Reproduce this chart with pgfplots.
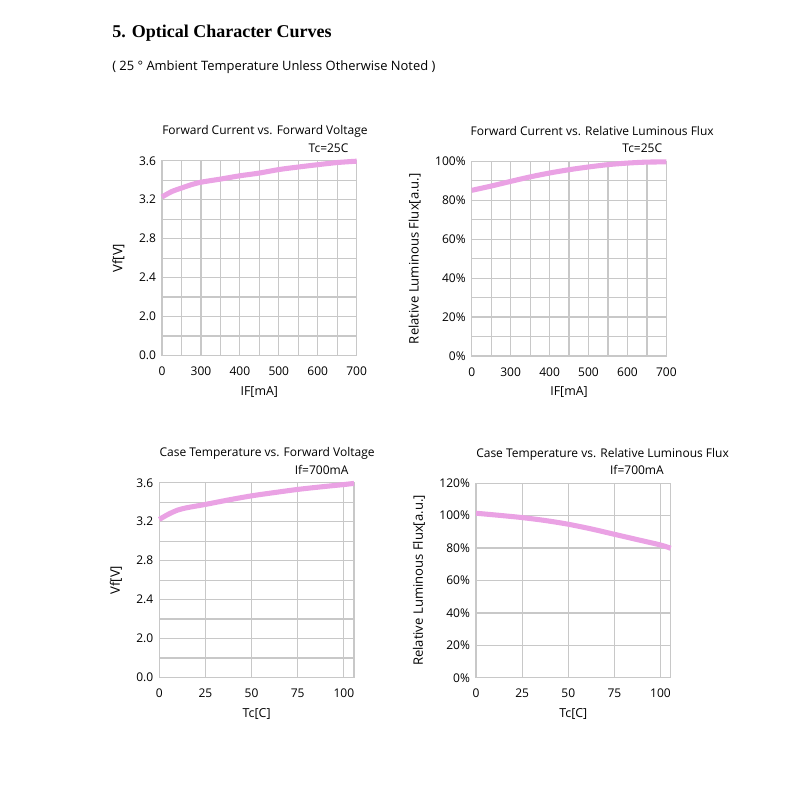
\documentclass[border=0pt]{standalone}
\usepackage{pgfplots}
\pgfplotsset{compat=1.18}
\usepackage{fontspec}
\setmainfont{Open Sans}
\newfontfamily\headfont{Liberation Serif}

\definecolor{curve}{RGB}{234,162,228}
\definecolor{gridc}{RGB}{200,200,200}

\tikzset{ttl/.style={font=\fontsize{9}{10}\selectfont, inner sep=0pt}}

\pgfplotsset{
  ledchart/.style={
    scale only axis,
    width=146pt, height=146pt,
    anchor=south west,
    axis line style={gridc, line width=0.9pt},
    grid style={gridc, line width=0.9pt},
    minor grid style={gridc, line width=0.9pt},
    major tick length=0pt, minor tick length=0pt,
    tick style={draw=none},
    ticklabel style={font=\fontsize{9}{10}\selectfont},
    /pgf/number format/assume math mode=true,
    xticklabel style={yshift=-5pt},
    yticklabel style={xshift=-1pt},
    xlabel style={font=\fontsize{9.3}{10}\selectfont, yshift=-1pt},
    ylabel style={font=\fontsize{9.8}{10}\selectfont, yshift=4pt},
    clip=false,
  },
  ledline/.style={curve, line width=3.8pt, smooth, no markers},
}

\begin{document}
\begin{tikzpicture}
\path[use as bounding box] (0,0) rectangle (600pt,600pt);

\node[anchor=base west, inner sep=0pt, font=\headfont\bfseries\fontsize{13.5}{15}\selectfont]
  at (84pt, 571.5pt) {5. Optical Character Curves};
\node[anchor=base west, inner sep=0pt, font=\fontsize{9.7}{11}\selectfont]
  at (84pt, 547pt) {( 25 \textdegree\ Ambient Temperature Unless Otherwise Noted )};

% top left: IF vs Vf (grid positions, labels as printed)
\begin{axis}[ledchart, at={(121.5pt,333.4pt)},
  xmin=0, xmax=10, ymin=0, ymax=10,
  xtick={0,2,4,6,8,10}, xticklabels={0,300,400,500,600,700},
  minor xtick={1,3,5,7,9},
  ytick={0,2,4,6,8,10}, yticklabels={0.0,2.0,2.4,2.8,3.2,3.6},
  minor ytick={1,3,5,7,9},
  grid=both,
  xlabel={IF[mA]}, ylabel={Vf[V]},
]
\addplot[ledline] coordinates {
  (0,8.14) (0.5,8.42) (1,8.6) (1.5,8.77) (2,8.9) (3,9.06) (4,9.23)
  (5,9.37) (6,9.55) (7,9.68) (8,9.8) (9,9.91) (10,9.98)
};
\node[ttl, anchor=base west] at (rel axis cs:0,1) [yshift=19.5pt] {Forward Current vs. Forward Voltage};
\node[ttl, anchor=base east] at (rel axis cs:1,1) [yshift=6.5pt, xshift=-6pt] {Tc=25C};
\end{axis}

% top right: IF vs relative flux
\begin{axis}[ledchart, at={(353.8pt,333pt)},
  xmin=0, xmax=10, ymin=0, ymax=100,
  xtick={0,2,4,6,8,10}, xticklabels={0,300,400,500,600,700},
  minor xtick={1,3,5,7,9},
  ytick={0,20,40,60,80,100}, yticklabels={0\%,20\%,40\%,60\%,80\%,100\%},
  minor ytick={10,30,50,70,90},
  grid=both,
  xlabel={IF[mA]}, ylabel={Relative Luminous Flux[a.u.]},
]
\addplot[ledline] coordinates {
  (0,85.1) (1,87.3) (2,89.7) (3,92) (4,94) (5,95.7) (6,97.1)
  (7,98.3) (8,99.1) (9,99.6) (10,99.7)
};
\node[ttl, anchor=base west] at (rel axis cs:0,1) [yshift=19.5pt, xshift=-1pt] {Forward Current vs. Relative Luminous Flux};
\node[ttl, anchor=base east] at (rel axis cs:1,1) [yshift=6.5pt, xshift=-3pt] {Tc=25C};
\end{axis}

% bottom left: Tc vs Vf
\begin{axis}[ledchart, at={(119.5pt,91.9pt)},
  xmin=0, xmax=105.5, ymin=0, ymax=10,
  xtick={0,25,50,75,100},
  ytick={0,2,4,6,8,10}, yticklabels={0.0,2.0,2.4,2.8,3.2,3.6},
  minor ytick={1,3,5,7,9},
  xmajorgrids, ymajorgrids, yminorgrids,
  xlabel={Tc[C]}, ylabel={Vf[V]},
]
\addplot[ledline] coordinates {
  (0,8.12) (5,8.39) (10,8.6) (15,8.72) (25,8.89) (37.5,9.12)
  (50,9.33) (62.5,9.5) (75,9.66) (87.5,9.79) (100,9.91) (105.5,9.97)
};
\node[ttl, anchor=base west] at (rel axis cs:0,1) [yshift=19.5pt] {Case Temperature vs. Forward Voltage};
\node[ttl, anchor=base east] at (rel axis cs:1,1) [yshift=6.5pt, xshift=-4pt] {If=700mA};
\end{axis}

% bottom right: Tc vs relative flux
\begin{axis}[ledchart, at={(357pt,91.6pt)},
  xmin=0, xmax=105.5, ymin=0, ymax=120,
  xtick={0,25,50,75,100},
  ytick={0,20,40,60,80,100,120}, yticklabels={0\%,20\%,40\%,60\%,80\%,100\%,120\%},
  grid=major,
  xlabel={Tc[C]}, ylabel={Relative Luminous Flux[a.u.]},
]
\addplot[ledline] coordinates {
  (0,101.5) (12.5,100.2) (25,98.8) (37.5,97) (50,94.7) (62.5,91.8)
  (75,88.5) (87.5,85.2) (100,81.9) (105.5,79.9)
};
\node[ttl, anchor=base west] at (rel axis cs:0,1) [yshift=19.5pt] {Case Temperature vs. Relative Luminous Flux};
\node[ttl, anchor=base east] at (rel axis cs:1,1) [yshift=6.5pt, xshift=-5pt] {If=700mA};
\end{axis}
\end{tikzpicture}
\end{document}
